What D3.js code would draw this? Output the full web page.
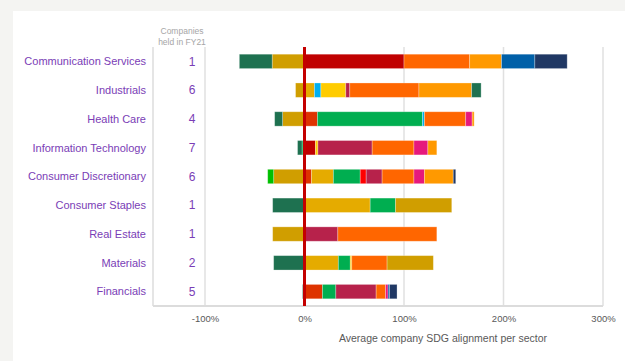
<!DOCTYPE html>
<html>
<head>
<meta charset="utf-8">
<script src="https://cdn.jsdelivr.net/npm/d3@7"></script>
<style>
    body { margin: 0; background: #f4f4f2; }
    svg { display: block; font-family: 'Liberation Sans', Arial, sans-serif; }
</style>
</head>
<body>
<div id="chart"></div>
<script>
// sectors top to bottom
var sectors = ['Communication Services', 'Industrials', 'Health Care', 'Information Technology',
    'Consumer Discretionary', 'Consumer Staples', 'Real Estate', 'Materials', 'Financials'];
var companies = [1, 6, 4, 7, 6, 1, 1, 2, 5];

// SDG contribution per sector (%), same order as sectors
var sdg1 = [0, 0, 13, 0, 7, 0, 0, 0, 18];
var sdg2 = [0, 10, 0, 0, 22, 66, 0, 34, 0];
var sdg3 = [0, 0, 105.5, -2.5, 27, 25.5, 0, 12, 13.5];
var sdg4 = [100, 0, 0, 11, 0, 0, 0, 0, 0];
var sdg5 = [0, 0, 0, 0, 6, 0, 0, 0, 0];
var sdg6 = [0, 6.5, 2, 0, 0, 0, 0, 0, 0];
var sdg7 = [0, 25, 0, 2.5, 0, 0, 0, 1.5, 0];
var sdg8 = [0, 4, 0, 54.5, 16, 0, 33.5, 0, 40.5];
var sdg9 = [66, 69.5, 41.5, 42, 32, 0, 99.5, 35.5, 9.5];
var sdg10 = [0, 0, 6.5, 14, 10.5, 0, 0, 0, 2.5];
var sdg11 = [32, 53, 2, 9, 29, 0, 0, 0, 0];
var sdg12 = [-32.5, -9, -22, 0, -31, 56.5, -32, 46.5, 0];
var sdg13 = [-33, 9.5, -8, -4.5, 0, -32, 0, -31, -2];
var sdg15 = [0, 0, 0, 0, -6, 0, 0, 0, 0];
var sdg16 = [33.5, 0, 0, 0, 0, 0, 0, 0, 1.5];
var sdg17 = [32.5, 0, 0, 0, 2.5, 0, 0, 0, 7.5];

var goals = ['SDG1', 'SDG2', 'SDG3', 'SDG4', 'SDG5', 'SDG6', 'SDG7', 'SDG8', 'SDG9',
    'SDG10', 'SDG11', 'SDG12', 'SDG13', 'SDG15', 'SDG16', 'SDG17'];
var goalValues = [sdg1, sdg2, sdg3, sdg4, sdg5, sdg6, sdg7, sdg8, sdg9,
    sdg10, sdg11, sdg12, sdg13, sdg15, sdg16, sdg17];
var goalColors = ['#de3300', '#e5ab00', '#00ae50', '#c00000', '#ff0000', '#00b0f0', '#ffcc00',
    '#b7224b', '#ff6600', '#e6197c', '#ff9900', '#d09e00', '#1e7150', '#00c000', '#0060a8', '#203864'];

var tickValues = [-100, 0, 100, 200, 300];

var width = 625,
    height = 361;

var svg = d3
    .select('#chart')
    .append('svg')
    .attr('width', width)
    .attr('height', height);

// white panel
svg.append('rect')
    .attr('x', 13)
    .attr('y', 11)
    .attr('width', width - 13)
    .attr('height', height - 11)
    .attr('fill', '#fff');

var x = d3.scaleLinear().domain([-100, 300]).range([205, 603]);
var y = d3.scaleBand().domain(sectors).range([47, 306]).paddingInner(0.5).paddingOuter(0.25);

var plotLeft = 153,
    plotTop = 47,
    plotBottom = 306;

// gridlines
svg.append('g')
    .selectAll('line')
    .data(tickValues.filter(function (d) { return d !== 0; }))
    .enter()
    .append('line')
    .attr('x1', function (d) { return x(d); })
    .attr('x2', function (d) { return x(d); })
    .attr('y1', plotTop)
    .attr('y2', plotBottom)
    .attr('stroke', '#e0e0e0')
    .attr('stroke-width', 1.5);

svg.append('line')
    .attr('x1', plotLeft).attr('x2', plotLeft)
    .attr('y1', plotTop).attr('y2', plotBottom)
    .attr('stroke', '#dcdcdc').attr('stroke-width', 1.5);

svg.append('line')
    .attr('x1', plotLeft).attr('x2', x(300))
    .attr('y1', plotBottom).attr('y2', plotBottom)
    .attr('stroke', '#dcdcdc').attr('stroke-width', 2);

// stacked bars
var table = sectors.map(function (s, i) {
    var row = { sector: s };
    goals.forEach(function (g, j) { row[g] = goalValues[j][i]; });
    return row;
});

var stack = d3.stack().keys(goals).offset(d3.stackOffsetDiverging);
var series = stack(table);

var color = d3.scaleOrdinal().domain(goals).range(goalColors);

svg.append('g')
    .selectAll('g')
    .data(series)
    .enter()
    .append('g')
    .attr('fill', function (d) { return color(d.key); })
    .selectAll('rect')
    .data(function (d) { return d.filter(function (p) { return p[1] !== p[0]; }); })
    .enter()
    .append('rect')
    .attr('x', function (d) { return x(Math.min(d[0], d[1])); })
    .attr('width', function (d) { return Math.abs(x(d[1]) - x(d[0])); })
    .attr('y', function (d) { return y(d.data.sector); })
    .attr('height', y.bandwidth())
    .attr('stroke', 'rgba(255,255,255,0.35)')
    .attr('stroke-width', 0.8);

// zero line
svg.append('line')
    .attr('x1', x(0)).attr('x2', x(0))
    .attr('y1', plotTop).attr('y2', plotBottom)
    .attr('stroke', '#c40000')
    .attr('stroke-width', 3);

// sector labels
svg.append('g')
    .selectAll('text')
    .data(sectors)
    .enter()
    .append('text')
    .attr('x', 146)
    .attr('y', function (d) { return y(d) + y.bandwidth() / 2; })
    .attr('dy', '0.35em')
    .attr('text-anchor', 'end')
    .attr('fill', '#7a3db6')
    .style('font-size', '11px')
    .text(function (d) { return d; });

// company counts
svg.append('g')
    .selectAll('text')
    .data(companies)
    .enter()
    .append('text')
    .attr('x', 192)
    .attr('y', function (d, i) { return y(sectors[i]) + y.bandwidth() / 2; })
    .attr('dy', '0.35em')
    .attr('text-anchor', 'middle')
    .attr('fill', '#7a3db6')
    .style('font-size', '12px')
    .text(function (d) { return d; });

svg.append('text')
    .attr('x', 182).attr('y', 34)
    .attr('text-anchor', 'middle')
    .attr('fill', '#a6a6a6')
    .style('font-size', '8.5px')
    .text('Companies');
svg.append('text')
    .attr('x', 182).attr('y', 45)
    .attr('text-anchor', 'middle')
    .attr('fill', '#a6a6a6')
    .style('font-size', '8.5px')
    .text('held in FY21');

// x axis
var xAxis = d3.axisBottom(x)
    .tickValues(tickValues)
    .tickSize(0)
    .tickPadding(9)
    .tickFormat(function (d) { return d + '%'; });

var ax = svg.append('g')
    .attr('transform', 'translate(0,' + plotBottom + ')')
    .call(xAxis);
ax.select('.domain').remove();
ax.selectAll('text')
    .attr('fill', '#595959')
    .style('font-size', '9.5px')
    .style('font-family', "'Liberation Sans', Arial, sans-serif");

svg.append('text')
    .attr('x', 443).attr('y', 342)
    .attr('text-anchor', 'middle')
    .attr('fill', '#595959')
    .style('font-size', '10.5px')
    .text('Average company SDG alignment per sector');
</script>
</body>
</html>
